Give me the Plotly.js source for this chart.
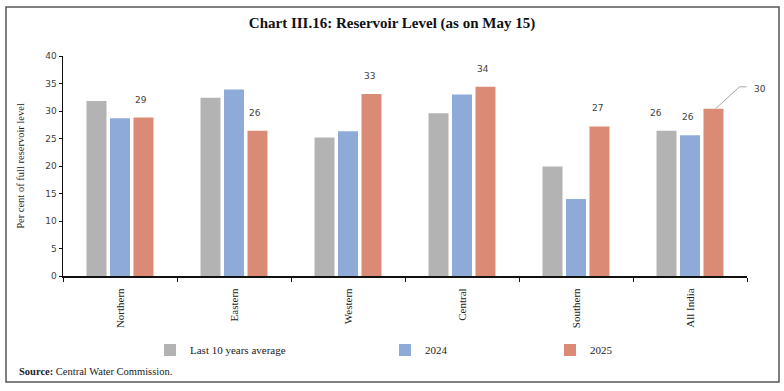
<!DOCTYPE html>
<html>
<head>
<meta charset="utf-8">
<script src="https://cdn.plot.ly/plotly-3.0.1.min.js"></script>
<style>
  html, body { margin: 0; padding: 0; background: #ffffff; }
  #chart { width: 784px; height: 391px; }
</style>
</head>
<body>
<div id="chart"></div>
<script>
// ---- Data ----
const categories = ['Northern', 'Eastern', 'Western', 'Central', 'Southern', 'All India'];
const avgLast10 = [31.8, 32.4, 25.2, 29.6, 19.9, 26.4];
const level2024 = [28.7, 33.9, 26.3, 33.0, 14.0, 25.6];
const level2025 = [28.8, 26.4, 33.1, 34.4, 27.2, 30.4];
const seriesNames = ['Last 10 years average', '2024', '2025'];
const seriesColors = ['#b3b3b3', '#8eaad9', '#db8b75'];
const titleText = 'Chart III.16: Reservoir Level (as on May 15)';
const yTitleText = 'Per cent of full reservoir level';
const sourceText = '<b>Source:</b> Central Water Commission.';

// ---- Layout geometry helpers ----
const W = 784, H = 391;
const M = { l: 63, r: 37, t: 56, b: 115 };
const PW = W - M.l - M.r, PH = H - M.t - M.b;
const px2x = px => (px - M.l) / PW;
const py2y = py => (H - M.b - py) / PH;

const serif = 'Liberation Serif, DejaVu Serif, serif';
const sans = 'DejaVu Sans, Liberation Sans, sans-serif';

const seriesValues = [avgLast10, level2024, level2025];
const legendIds = ['legend', 'legend2', 'legend3'];
const traces = seriesValues.map((vals, i) => ({
  type: 'bar',
  name: seriesNames[i],
  x: categories,
  y: vals,
  marker: { color: seriesColors[i], line: { width: 0 } },
  legend: legendIds[i],
  hoverinfo: 'x+y+name'
}));

// bar slot offset in pixels within a category group
const catPx = PW / categories.length;
const bargap = 0.382, bargroupgap = 0.149;
const slotPx = catPx * (1 - bargap) / 3;
const labelFont = { family: sans, size: 9, color: '#404040' };

const annotations = [];
const lastIdx = categories.length - 1;
// 2025 labels
level2025.forEach((v, i) => {
  if (i === lastIdx) return;
  annotations.push({
    x: categories[i], y: v, xref: 'x', yref: 'y', text: String(Math.round(v)),
    showarrow: false, xshift: slotPx - 2, yshift: 18, yanchor: 'middle', font: labelFont
  });
});
// All India labels for average and 2024
annotations.push({
  x: categories[lastIdx], y: avgLast10[lastIdx], xref: 'x', yref: 'y',
  text: String(Math.round(avgLast10[lastIdx])), showarrow: false,
  xshift: -slotPx - 11, yshift: 18, yanchor: 'middle', font: labelFont
});
annotations.push({
  x: categories[lastIdx], y: level2024[lastIdx], xref: 'x', yref: 'y',
  text: String(Math.round(level2024[lastIdx])), showarrow: false,
  xshift: -2, yshift: 18, yanchor: 'middle', font: labelFont
});
// All India 2025 label with leader line
annotations.push({
  x: categories[lastIdx], y: level2025[lastIdx], xref: 'x', yref: 'y',
  text: String(Math.round(level2025[lastIdx])), showarrow: false,
  xshift: slotPx + 39, yshift: 20, xanchor: 'left', yanchor: 'middle', font: labelFont
});
// Source note
annotations.push({
  xref: 'paper', yref: 'paper', x: px2x(17), y: py2y(371), xanchor: 'left', yanchor: 'middle',
  text: sourceText, showarrow: false, font: { family: serif, size: 10.5, color: '#222' }
});

const shapes = [
  // leader line for All India 2025 label
  {
    type: 'path', xref: 'x', yref: 'y',
    xsizemode: 'pixel', ysizemode: 'pixel',
    xanchor: lastIdx + slotPx / catPx, yanchor: level2025[lastIdx],
    path: 'M2,0 L26,22 L33,22',
    line: { color: '#a6a6a6', width: 1 }
  },
  // outer frame
  {
    type: 'rect', xref: 'paper', yref: 'paper',
    x0: px2x(6), x1: px2x(779), y0: py2y(382), y1: py2y(7),
    line: { color: '#555555', width: 1.5 }, fillcolor: 'rgba(0,0,0,0)', layer: 'above'
  }
];

const legendBase = {
  orientation: 'h', xanchor: 'left', yanchor: 'middle', y: py2y(350),
  bgcolor: 'rgba(0,0,0,0)', font: { family: serif, size: 11, color: '#222' },
  itemwidth: 30, itemclick: false, itemdoubleclick: false
};

const layout = {
  width: W, height: H,
  margin: M,
  paper_bgcolor: '#ffffff', plot_bgcolor: '#ffffff',
  title: {
    text: titleText, x: 0.5, xanchor: 'center', xref: 'container',
    y: 1 - 23 / H, yanchor: 'middle', yref: 'container',
    font: { family: serif, size: 15, color: '#111', weight: 'bold' }
  },
  barmode: 'group', bargap: bargap, bargroupgap: bargroupgap,
  showlegend: true,
  legend: Object.assign({}, legendBase, { x: px2x(150) }),
  legend2: Object.assign({}, legendBase, { x: px2x(385) }),
  legend3: Object.assign({}, legendBase, { x: px2x(550) }),
  xaxis: {
    type: 'category', range: [-0.5, categories.length - 0.5],
    showline: true, linecolor: '#111', linewidth: 2,
    ticks: 'outside', tickson: 'boundaries', ticklen: 4, tickcolor: '#111', tickwidth: 1,
    tickangle: -90, ticklabelstandoff: 6,
    tickfont: { family: serif, size: 11, color: '#222' },
    showgrid: false, zeroline: false, fixedrange: true
  },
  yaxis: {
    range: [0, 40], dtick: 5, tick0: 0,
    showline: true, linecolor: '#111', linewidth: 1.5,
    ticks: 'outside', ticklen: 3, tickcolor: '#111',
    tickfont: { family: sans, size: 9, color: '#404040' },
    showgrid: false, zeroline: false, fixedrange: true,
    title: { text: yTitleText, standoff: 18, font: { family: serif, size: 10.5, color: '#222' } }
  },
  annotations: annotations,
  shapes: shapes
};

Plotly.newPlot('chart', traces, layout, { displayModeBar: false, staticPlot: true });
</script>
</body>
</html>
